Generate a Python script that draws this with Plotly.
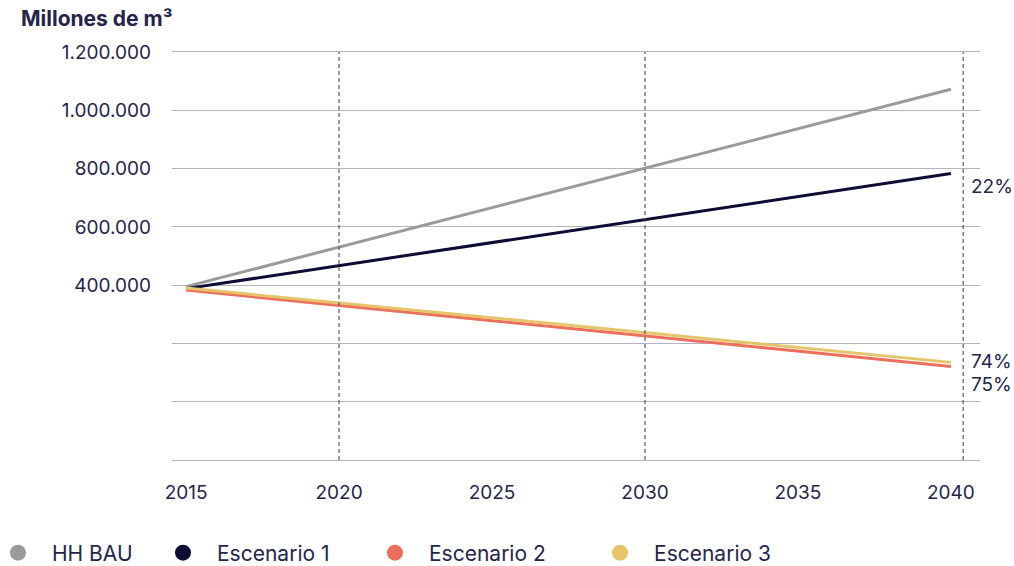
import plotly.graph_objects as go

years = [2015, 2020, 2025, 2030, 2035, 2040]
hh_bau = [395000, 530000, 665000, 800000, 937000, 1072000]
esc1 = [388000, 467000, 546000, 627000, 704000, 783000]
esc2 = [383000, 331000, 278000, 226000, 173000, 121000]
esc3 = [390000, 339000, 288000, 237000, 186000, 135000]

series_names = ["HH BAU", "Escenario 1", "Escenario 2", "Escenario 3"]
series_values = [hh_bau, esc1, esc2, esc3]
colors = ["#9a9a9c", "#0c0c35", "#ec6f5b", "#e6c46a"]

y_tickvals = [-200000, 0, 200000, 400000, 600000, 800000, 1000000, 1200000]
y_ticktext = ["", "", "", "400.000", "600.000", "800.000", "1.000.000", "1.200.000"]
x_ticks = [2015, 2020, 2025, 2030, 2035, 2040]
dashed_x = [2020, 2030, 2040.4]

pct_labels = ["22%", "74%", "75%"]
pct_y = [738000, 138000, 59000]

text_color = "#25254a"
grid_color = "#b3b3c3"
font = "Inter, 'Noto Sans', sans-serif"

legend_ids = ["legend", "legend2", "legend3", "legend4"]
legend_x = [-0.2327, -0.02847, 0.2339, 0.5124]

fig = go.Figure()
for name, vals, c in zip(series_names, series_values, colors):
    fig.add_trace(go.Scatter(x=years, y=vals, mode="lines", name=name,
                             line=dict(color=c, width=3), showlegend=False))
for name, c, lid in zip(series_names, colors, legend_ids):
    fig.add_trace(go.Scatter(x=[None], y=[None], mode="markers", name=name,
                             marker=dict(color=c, size=20, symbol="circle"),
                             showlegend=True, legend=lid))

for xv in dashed_x:
    fig.add_shape(type="line", xref="x", yref="paper", x0=xv, x1=xv, y0=0, y1=1,
                  line=dict(color="#5a5a5a", width=1.2, dash="4px,3px"), layer="above")

for t, yv in zip(pct_labels, pct_y):
    fig.add_annotation(x=0.986, xref="paper", y=yv, yref="y", text=t, showarrow=False,
                       xanchor="left", font=dict(size=19, color=text_color, family=font))

fig.add_annotation(x=-0.1893, xref="paper", y=1.083, yref="paper",
                   text="<b>Millones de m³</b>", showarrow=False,
                   xanchor="left", yanchor="middle",
                   font=dict(size=21, color=text_color, family=font))

legend_common = dict(orientation="h", xref="paper", xanchor="left",
                     yref="container", y=0.023, yanchor="middle",
                     font=dict(size=21, color=text_color, family=font),
                     itemsizing="trace", itemwidth=58, bgcolor="rgba(0,0,0,0)")

fig.update_layout(
    width=1014, height=566,
    margin=dict(l=172, r=34, t=52, b=106, autoexpand=False),
    paper_bgcolor="white", plot_bgcolor="white",
    font=dict(family=font, color=text_color, size=19),
    xaxis=dict(range=[2014.54, 2040.95], tickvals=x_ticks, ticktext=[str(v) for v in x_ticks],
               showgrid=False, zeroline=False, showline=True, mirror=True,
               linecolor=grid_color, linewidth=1.2,
               ticks="", ticklabelstandoff=15, tickfont=dict(size=19, color=text_color)),
    yaxis=dict(range=[-200000, 1200000], tickvals=y_tickvals, ticktext=y_ticktext,
               showgrid=True, gridcolor=grid_color, gridwidth=1.2, zeroline=False, showline=False,
               ticks="", ticklabelstandoff=20, tickfont=dict(size=19, color=text_color)),
)
for lid, lx in zip(legend_ids, legend_x):
    fig.update_layout({lid: dict(legend_common, x=lx)})

fig.write_html("out.html")
